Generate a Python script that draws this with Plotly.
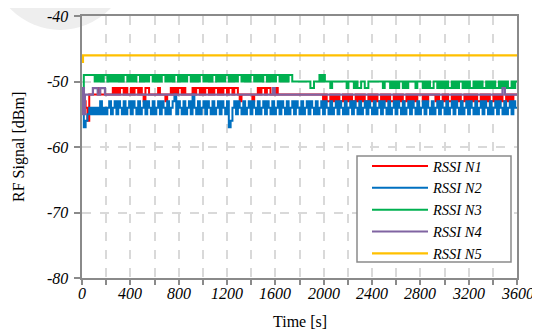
import plotly.graph_objects as go

# ---------------- data ----------------
dt = 15  # seconds between samples for the noisy series

rssi_n1 = [
    -52,-53,-54,-56,-52,-52,-52,-52,-52,-51,-52,-52,-52,-52,-52,-52,-52,-51,-52,-51,
    -52,-51,-51,-52,-51,-52,-52,-51,-52,-51,-51,-52,-51,-52,-53,-51,-51,-52,-52,-52,
    -52,-52,-51,-52,-52,-52,-53,-52,-52,-51,-52,-51,-52,-51,-51,-52,-51,-52,-52,-52,
    -52,-51,-52,-51,-51,-52,-51,-52,-51,-51,-52,-51,-52,-51,-51,-52,-51,-52,-51,-51,
    -52,-51,-51,-52,-51,-51,-52,-53,-52,-52,-52,-52,-52,-52,-53,-52,-52,-51,-52,-51,
    -51,-52,-51,-51,-52,-52,-52,-51,-52,-52,-52,-52,-52,-52,-52,-52,-52,-52,-52,-52,
    -52,-52,-52,-52,-52,-52,-52,-52,-52,-52,-52,-52,-52,-53,-52,-53,-53,-52,-53,-52,
    -53,-52,-53,-53,-52,-53,-52,-53,-52,-53,-53,-52,-53,-52,-53,-52,-53,-53,-52,-53,
    -52,-53,-52,-53,-53,-52,-53,-52,-53,-52,-53,-53,-52,-53,-52,-53,-52,-53,-53,-52,
    -53,-52,-53,-52,-53,-52,-52,-52,-53,-52,-53,-52,-52,-52,-52,-53,-52,-53,-53,-52,
    -53,-52,-53,-53,-52,-53,-52,-53,-52,-53,-53,-52,-53,-52,-53,-52,-53,-52,-53,-53,
    -52,-53,-52,-53,-52,-53,-53,-52,-53,-52,-53,-52,-53,-53,-52,-53,-52,-53,-52,-52,
    -52,
]

rssi_n2 = [
    -53,-57,-56,-55,-54,-55,-54,-55,-54,-55,-53,-55,-54,-55,-54,-53,-55,-54,-53,-55,
    -53,-54,-55,-53,-55,-54,-53,-55,-53,-54,-55,-53,-55,-54,-53,-55,-53,-54,-55,-53,
    -55,-54,-53,-55,-53,-54,-55,-53,-55,-54,-53,-52,-55,-53,-54,-55,-53,-55,-54,-53,
    -55,-52,-54,-55,-53,-55,-54,-53,-55,-53,-54,-55,-53,-55,-54,-53,-55,-53,-54,-55,
    -53,-57,-56,-54,-53,-55,-53,-54,-55,-53,-55,-54,-53,-55,-53,-54,-55,-53,-55,-54,
    -53,-55,-53,-54,-55,-53,-55,-54,-53,-55,-53,-54,-55,-53,-55,-54,-53,-55,-53,-54,
    -55,-53,-55,-54,-53,-55,-53,-54,-55,-53,-55,-54,-53,-55,-53,-54,-55,-53,-55,-54,
    -53,-55,-53,-54,-55,-53,-55,-54,-53,-55,-53,-54,-55,-53,-55,-54,-53,-55,-53,-54,
    -55,-53,-55,-54,-53,-55,-53,-54,-55,-53,-55,-54,-53,-55,-53,-54,-55,-53,-55,-54,
    -53,-55,-53,-54,-55,-53,-55,-54,-53,-55,-53,-54,-55,-53,-55,-54,-53,-55,-53,-54,
    -55,-53,-55,-54,-53,-55,-53,-54,-55,-53,-55,-54,-53,-55,-53,-54,-55,-53,-55,-54,
    -53,-55,-53,-54,-55,-53,-55,-54,-53,-55,-53,-54,-55,-53,-55,-54,-53,-55,-53,-54,
    -54,
]

rssi_n3 = [
    -51,-49,-49,-49,-49,-49,-49,-50,-49,-50,-49,-50,-49,-49,-50,-49,-50,-49,-50,-49,
    -50,-49,-50,-49,-49,-50,-49,-50,-49,-50,-49,-49,-50,-49,-50,-49,-50,-49,-49,-50,
    -49,-50,-49,-50,-49,-49,-50,-49,-50,-49,-50,-49,-49,-50,-49,-50,-49,-50,-49,-49,
    -50,-49,-50,-49,-50,-49,-49,-50,-49,-50,-49,-50,-49,-49,-50,-49,-50,-49,-50,-49,
    -49,-50,-49,-50,-49,-50,-49,-49,-50,-49,-50,-49,-50,-49,-49,-50,-49,-50,-49,-50,
    -49,-49,-50,-49,-50,-49,-50,-49,-49,-50,-49,-50,-49,-50,-49,-49,-50,-50,-50,-50,
    -50,-50,-50,-50,-50,-50,-51,-51,-50,-50,-50,-49,-50,-49,-50,-50,-50,-51,-50,-50,
    -50,-50,-50,-50,-50,-50,-51,-50,-50,-50,-51,-50,-51,-51,-50,-50,-51,-51,-50,-50,
    -50,-50,-50,-50,-50,-50,-51,-50,-50,-50,-51,-50,-51,-50,-51,-50,-50,-51,-50,-51,
    -50,-50,-50,-50,-51,-50,-50,-50,-51,-50,-51,-50,-51,-51,-50,-50,-51,-50,-51,-50,
    -51,-50,-51,-51,-50,-51,-50,-51,-50,-50,-51,-50,-51,-50,-51,-51,-50,-51,-50,-51,
    -50,-51,-51,-50,-51,-50,-51,-50,-51,-51,-50,-51,-50,-51,-50,-51,-51,-50,-51,-50,
    -50,
]

# N4 and N5 are nearly constant: step change points
n4_times  = [0,   8,   16,  24,  90,  130, 150, 190, 1580, 1595, 3480, 3500, 3600]
n4_values = [-55, -51, -55, -52, -51, -52, -51, -52, -51,  -52,  -51,  -52,  -52]

n5_times  = [0,   8,   3600]
n5_values = [-47, -46, -46]

series_names = ["RSSI N1", "RSSI N2", "RSSI N3", "RSSI N4", "RSSI N5"]
x_tick_vals = [0, 400, 800, 1200, 1600, 2000, 2400, 2800, 3200, 3600]
x_tick_text = ["0", "400", "800", "1200", "1600", "2000", "2400", "2800", "3200", "3600"]
y_tick_vals = [-80, -70, -60, -50, -40]
y_tick_text = ["-80", "-70", "-60", "-50", "-40"]

# ---------------- figure ----------------
colors = ["#FF0000", "#0070C0", "#00B050", "#8064A2", "#FFC000"]
serif = "Liberation Serif"
frame_col = "#8a8a8a"
grid_col = "#d9d9d9"

# page body has an 8px margin: compensate so the plot area sits at 82..517 x 16..278
OFF = 8

def grid_times(vals):
    return [i * dt for i in range(len(vals))]

fig = go.Figure()
for name, vals, col in zip(series_names[:3], [rssi_n1, rssi_n2, rssi_n3], colors[:3]):
    fig.add_trace(go.Scatter(x=grid_times(vals), y=vals, mode="lines", name=name,
                             line=dict(color=col, width=2.0, shape="hv", simplify=False)))
fig.add_trace(go.Scatter(x=n4_times, y=n4_values, mode="lines", name=series_names[3],
                         line=dict(color=colors[3], width=2.2, shape="hv", simplify=False)))
fig.add_trace(go.Scatter(x=n5_times, y=n5_values, mode="lines", name=series_names[4],
                         line=dict(color=colors[4], width=2.2, shape="hv", simplify=False)))

fig.update_xaxes(
    automargin=False, showline=True, linecolor=frame_col, linewidth=2, mirror=True,
    showgrid=True, gridcolor=grid_col, griddash="dash", gridwidth=1.5, zeroline=False,
    range=[0, 3600], tickmode="array", tickvals=x_tick_vals, showticklabels=False,
    ticks="outside", ticklen=5, tickcolor=frame_col, tickwidth=1.5,
    minor=dict(dtick=200, tick0=0, showgrid=True, gridcolor=grid_col, griddash="dash",
               gridwidth=1.5, ticks="outside", ticklen=5, tickcolor=frame_col),
)
fig.update_yaxes(
    automargin=False, showline=True, linecolor=frame_col, linewidth=2, mirror=True,
    showgrid=True, gridcolor=grid_col, griddash="dash", gridwidth=1.5, zeroline=False,
    range=[-80, -40], tickmode="array", tickvals=y_tick_vals, showticklabels=False,
    ticks="outside", ticklen=6, tickcolor=frame_col, tickwidth=1.5,
)

tick_font = dict(family=serif, size=16, color="black", style="italic")
for v, t in zip(x_tick_vals, x_tick_text):
    fig.add_annotation(x=v, y=0, xref="x", yref="paper", text=t, showarrow=False,
                       xanchor="center", yanchor="top", yshift=-5, font=tick_font)
for v, t in zip(y_tick_vals, y_tick_text):
    fig.add_annotation(x=0, y=v, xref="paper", yref="y", text=t, showarrow=False,
                       xanchor="right", yanchor="middle", xshift=-12, font=tick_font)

title_font = dict(family=serif, size=16, color="black")
fig.add_annotation(x=0.5, y=0, xref="paper", yref="paper", text="Time [s]", showarrow=False,
                   xanchor="center", yanchor="top", yshift=-33, font=title_font)
fig.add_annotation(x=0, y=0.5, xref="paper", yref="paper", text="RF Signal [dBm]",
                   showarrow=False, textangle=-90, xanchor="right", yanchor="middle",
                   xshift=-52, font=title_font)

# faint grey blob in the top-left corner
fig.add_shape(type="circle", xref="paper", yref="paper", layer="below",
              x0=-0.21, x1=0.11, y0=0.947, y1=1.48,
              fillcolor="#eeeeee", line=dict(width=0))
# legend frame
fig.add_shape(type="rect", xref="paper", yref="paper", layer="above",
              x0=(357 - 82) / 435, x1=(511 - 82) / 435,
              y0=(278 - 262) / 262, y1=(278 - 156) / 262,
              fillcolor="white", line=dict(color=frame_col, width=1.5))

fig.update_layout(
    width=540, height=333,
    margin=dict(l=82 - OFF, r=23 + OFF, t=16 - OFF, b=55 + OFF, autoexpand=False),
    font=dict(family=serif, size=16, color="black"),
    paper_bgcolor="white", plot_bgcolor="rgba(0,0,0,0)",
    showlegend=True,
    legend=dict(x=(367 - 82) / 435, y=(278 - 150) / 262, xanchor="left", yanchor="top",
                bgcolor="rgba(0,0,0,0)", borderwidth=0,
                font=dict(family=serif, size=14.5, color="black", style="italic"),
                tracegroupgap=0, itemwidth=56),
)

fig.write_html("out.html")
